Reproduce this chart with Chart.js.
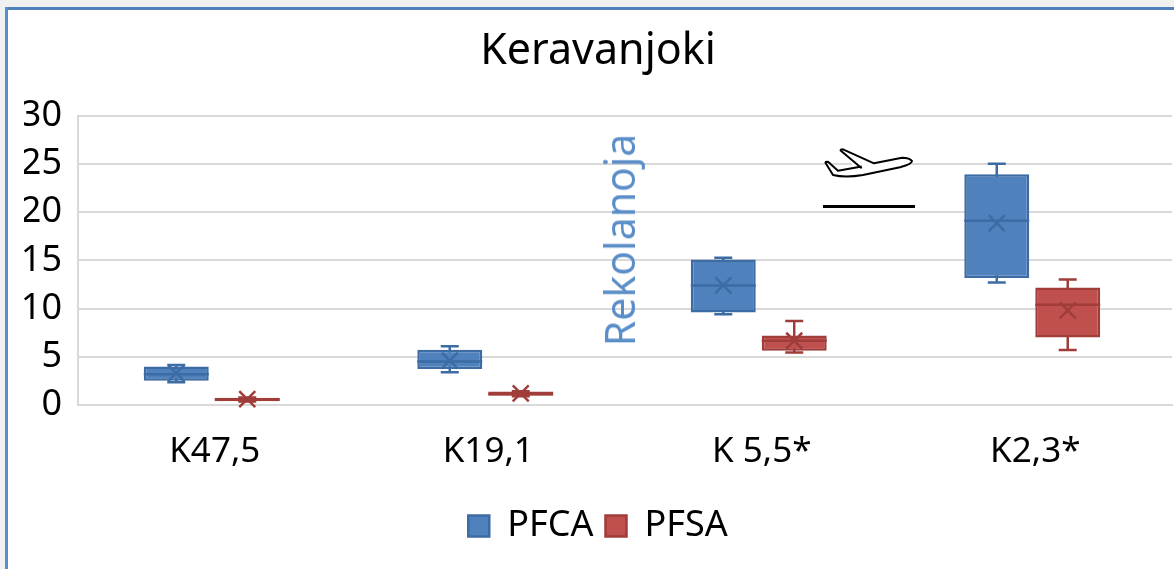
<!DOCTYPE html>
<html>
<head>
<meta charset="utf-8">
<title>Keravanjoki</title>
<script src="https://cdn.jsdelivr.net/npm/chart.js@4/dist/chart.umd.min.js"></script>
<style>
    html, body { margin: 0; padding: 0; background: #fff; overflow: hidden; }
    #wrap { position: relative; width: 1174px; height: 569px; }
    #outerTop { position: absolute; left: 0; top: 0; width: 1174px; height: 7px; background: #f0f2f1; }
    #outerLeft { position: absolute; left: 0; top: 0; width: 5px; height: 569px; background: #f0f2f1; }
    #frameTop { position: absolute; left: 5px; top: 7px; right: 0; height: 3px; background: #4f81bd; }
    #frameLeft { position: absolute; left: 5px; top: 7px; bottom: 0; width: 3px; background: #5b8ccb; }
    #rekolanoja {
        position: absolute; left: 619px; top: 240px; color: #5b8ec9;
        font: 41px "Noto Sans", sans-serif; white-space: nowrap;
        transform: translate(-50%, -50%) rotate(-90deg);
    }
    #plane { position: absolute; left: 820px; top: 145px; }
    #planeLine { position: absolute; left: 823px; top: 205px; width: 92px; height: 3px; background: #000; }
</style>
</head>
<body>
<div id="wrap">
    <canvas id="myChart" width="1174" height="569"></canvas>
    <div id="outerTop"></div>
    <div id="outerLeft"></div>
    <div id="frameTop"></div>
    <div id="frameLeft"></div>
    <div id="rekolanoja">Rekolanoja</div>
    <svg id="plane" width="100" height="40" viewBox="0 0 100 40">
        <path d="M5 17 L8 16.7 L18 25.7 L35 22.5 L20 5 L23 4.3 L54 18.3 L82 12.7 Q90 13 92 16 Q92 19 80 22.3 L43 30 Q25 33 13 30 Z" fill="#fff" stroke="none"/>
        <path d="M5 17 L8 16.7 L18 25.7 L41.7 21.5 M20 5 L23 4.3 L54 18.3 L82 12.7 Q90 13 92 16 Q92 19 80 22.3 L43 30 Q25 33 13 30 L5 17 M20 5 L41.7 23.3" fill="none" stroke="#000" stroke-width="2" stroke-linejoin="round"/>
    </svg>
    <div id="planeLine"></div>
</div>
<script>
    const categories = ["K47,5", "K19,1", "K 5,5*", "K2,3*"];
    const yTicks = [0, 5, 10, 15, 20, 25, 30];

    const pfcaMin = [2.35, 3.4, 9.4, 12.7];
    const pfcaQ1 = [2.52, 3.73, 9.58, 13.17];
    const pfcaMedian = [3.2, 4.5, 12.4, 19.1];
    const pfcaMean = [3.3, 4.6, 12.4, 18.85];
    const pfcaQ3 = [4.0, 5.73, 15.07, 23.93];
    const pfcaMax = [4.14, 6.1, 15.27, 25];

    const pfsaMin = [0.35, 0.92, 5.45, 5.7];
    const pfsaQ1 = [0.38, 0.95, 5.62, 7.0];
    const pfsaMedian = [0.57, 1.15, 6.66, 10.4];
    const pfsaMean = [0.6, 1.2, 6.66, 9.8];
    const pfsaQ3 = [0.76, 1.4, 7.2, 12.17];
    const pfsaMax = [0.78, 1.42, 8.7, 13];

    const stats = [
        { min: pfcaMin, median: pfcaMedian, mean: pfcaMean, max: pfcaMax, color: "#3d6ba3" },
        { min: pfsaMin, median: pfsaMedian, mean: pfsaMean, max: pfsaMax, color: "#a03d3a" }
    ];

    // chart.js has no box plot, so whiskers, median and mean are drawn around the floating bars
    const boxParts = {
        id: "boxParts",
        afterDatasetsUpdate(chart) {
            // the groups sit a little left of their labels in the original
            chart.data.datasets.forEach(function(ds, i) {
                chart.getDatasetMeta(i).data.forEach(function(bar) { bar.x -= 3; });
            });
        },
        beforeDatasetsDraw(chart) {
            const ctx = chart.ctx, y = chart.scales.y;
            ctx.save();
            ctx.lineWidth = 2.5;
            stats.forEach(function(s, i) {
                ctx.strokeStyle = s.color;
                chart.getDatasetMeta(i).data.forEach(function(bar, j) {
                    const top = y.getPixelForValue(s.max[j]);
                    const bottom = y.getPixelForValue(s.min[j]);
                    ctx.beginPath();
                    ctx.moveTo(bar.x, top);
                    ctx.lineTo(bar.x, bottom);
                    ctx.moveTo(bar.x - 9, top);
                    ctx.lineTo(bar.x + 9, top);
                    ctx.moveTo(bar.x - 9, bottom);
                    ctx.lineTo(bar.x + 9, bottom);
                    ctx.stroke();
                });
            });
            ctx.restore();
        },
        afterDatasetsDraw(chart) {
            const ctx = chart.ctx, y = chart.scales.y;
            ctx.save();
            ctx.lineWidth = 2.5;
            stats.forEach(function(s, i) {
                ctx.strokeStyle = s.color;
                chart.getDatasetMeta(i).data.forEach(function(bar, j) {
                    const med = y.getPixelForValue(s.median[j]);
                    const mean = y.getPixelForValue(s.mean[j]);
                    ctx.beginPath();
                    ctx.moveTo(bar.x - bar.width / 2, med);
                    ctx.lineTo(bar.x + bar.width / 2, med);
                    ctx.moveTo(bar.x - 8, mean - 8);
                    ctx.lineTo(bar.x + 8, mean + 8);
                    ctx.moveTo(bar.x - 8, mean + 8);
                    ctx.lineTo(bar.x + 8, mean - 8);
                    ctx.stroke();
                });
            });
            ctx.restore();
        }
    };

    const fontName = '"Noto Sans", sans-serif';

    new Chart(document.getElementById("myChart").getContext("2d"), {
        type: "bar",
        data: {
            labels: categories,
            datasets: [
                {
                    label: "PFCA",
                    data: pfcaQ1.map(function(v, i) { return [v, pfcaQ3[i]]; }),
                    backgroundColor: "#4f81bd",
                    borderColor: "#3d6ba3",
                    borderWidth: 2.5,
                    borderSkipped: false
                },
                {
                    label: "PFSA",
                    data: pfsaQ1.map(function(v, i) { return [v, pfsaQ3[i]]; }),
                    backgroundColor: "#c0504d",
                    borderColor: "#a03d3a",
                    borderWidth: 2.5,
                    borderSkipped: false
                }
            ]
        },
        options: {
            responsive: false,
            animation: false,
            categoryPercentage: 0.519,
            barPercentage: 0.915,
            layout: { padding: { top: 0, right: 2, bottom: 15, left: 24 } },
            plugins: {
                tooltip: { enabled: false },
                title: {
                    display: true,
                    text: "Keravanjoki",
                    color: "#000",
                    font: { family: fontName, size: 43, weight: "normal" },
                    padding: { top: 26, bottom: 38 }
                },
                legend: {
                    position: "bottom",
                    labels: {
                        color: "#000",
                        boxWidth: 21,
                        boxHeight: 21,
                        padding: 12,
                        font: { family: fontName, size: 36 }
                    }
                }
            },
            scales: {
                x: {
                    afterFit: function(axis) { axis.height = 91; },
                    grid: { display: false, drawTicks: false },
                    border: { color: "#d9d9d9", width: 2 },
                    ticks: { color: "#000", padding: 26, maxRotation: 0, font: { family: fontName, size: 35 } }
                },
                y: {
                    min: 0,
                    max: 30,
                    afterFit: function(axis) { axis.width = 54; },
                    afterBuildTicks: function(axis) {
                        axis.ticks = yTicks.map(function(v) { return { value: v }; });
                    },
                    grid: { color: "#d9d9d9", lineWidth: 2, drawTicks: false },
                    border: { color: "#d9d9d9", width: 2 },
                    ticks: { color: "#000", padding: 16, font: { family: fontName, size: 36 } }
                }
            }
        },
        plugins: [boxParts]
    });
</script>
</body>
</html>
